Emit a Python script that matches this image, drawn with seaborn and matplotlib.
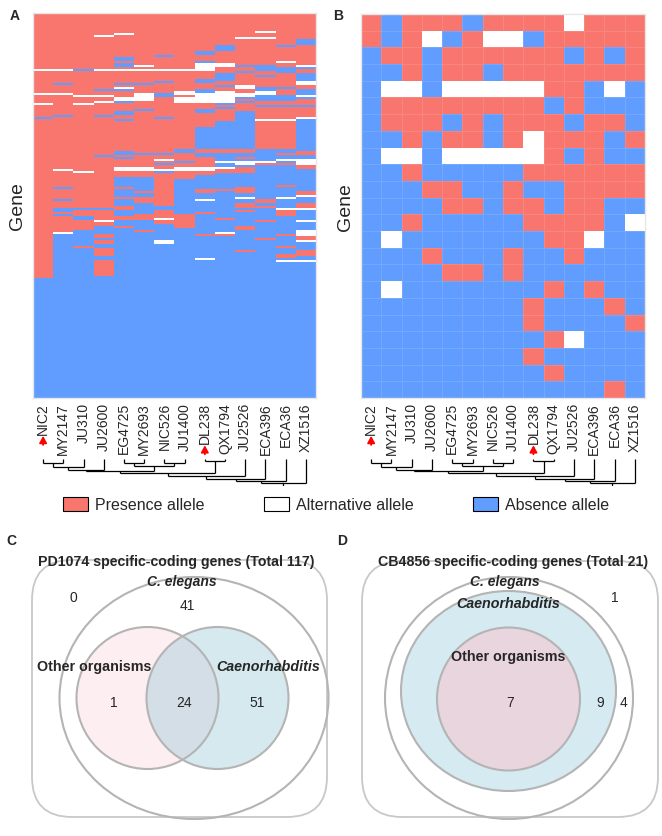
import numpy as np
import pandas as pd
import seaborn as sns
import matplotlib.pyplot as plt
from matplotlib.colors import ListedColormap
from matplotlib.patches import Patch, Ellipse, FancyBboxPatch

sns.set_style("white")
plt.rcParams["font.family"] = ["Liberation Sans", "DejaVu Sans"]

# ---------------- data ----------------
strains = ["NIC2", "MY2147", "JU310", "JU2600", "EG4725", "MY2693", "NIC526",
           "JU1400", "DL238", "QX1794", "JU2526", "ECA396", "ECA36", "XZ1516"]
marked_strains = ["NIC2", "DL238"]

# allele state per cell: A = absence, W = alternative, P = presence
allele_codes = {"A": 0, "W": 1, "P": 2}
allele_colors = ["#619CFF", "#FFFFFF", "#F8766D"]
legend_labels = ["Presence allele", "Alternative allele", "Absence allele"]
legend_codes = ["P", "W", "A"]

# panel A: run lengths down each strain column (rows)
panel_a_runs = [
    "P28 W1 P11 W1 P4 W1 P6 A1 P79 A60",
    "P28 W1 P6 A1 P4 W1 P10 A1 P26 W1 P8 A1 P5 A1 P3 A2 P1 A1 P8 W1 A82",
    "P28 A1 P12 W1 P3 W1 P33 W1 P17 A1 P3 A2 P5 A8 P1 A75",
    "P11 W1 P16 W1 P9 A1 P2 W1 P2 W1 P6 A1 P19 A1 P25 A1 P5 W1 P2 A4 P2 A1 P2 A2 P4 A2 P8 A61",
    "P10 W1 P11 A2 P1 A2 P1 W1 P6 A1 P1 W1 A1 P3 W2 A1 P4 A2 P2 A1 P15 A2 P1 A1 P4 W2 P3 A5 P1 A4 P1 A3 P2 A3 P2 A3 P1 A85",
    "P26 W1 P1 W1 P6 A1 P4 W4 P4 A1 P21 A1 P6 W2 P3 A7 P1 A2 P3 A5 P3 A5 P1 A83",
    "P21 A1 P6 W1 P5 A1 P5 A2 P10 A1 P17 A1 P2 W1 P1 A1 P2 W1 A1 P16 A2 P4 W1 P2 A8 W2 A77",
    "P28 W1 P10 W2 P1 W3 P23 A2 P4 A1 P2 W2 P4 A17 P7 A85",
    "P19 A2 P3 A1 W4 P4 A2 P3 A2 W5 P3 A2 P7 A11 P2 A2 P5 W2 P2 A7 P2 A3 W1 A5 P1 A10 P1 A11 W1 A69",
    "P16 A3 P6 W2 P3 A4 P2 A1 P2 W6 A1 P1 A1 P6 A14 P2 A4 W1 A2 W1 P2 A8 P1 A13 P1 A6 W1 P1 A81",
    "P12 W1 P13 A1 P2 A1 P6 W2 P2 W2 A1 P1 A1 P4 A19 P2 A2 P1 A1 W2 A1 P3 A7 P3 A2 W1 A2 P2 A1 P1 A7 P2 A10 P1 A73",
    "P9 W1 P2 W1 P13 A3 P2 A1 P5 A2 W2 A3 P2 A1 P6 W1 P14 A6 W1 P1 A17 P2 A1 P1 A6 P1 A8 P1 A79",
    "P16 A1 P7 W1 P2 A3 P7 A1 P3 A3 P2 A1 P6 W1 P14 A2 P1 A2 W1 A1 P1 A10 P1 A5 W1 A4 W1 P3 A9 P1 A5 P1 A3 P2 A1 W1 A68",
    "P13 A3 P10 W1 A1 P2 A4 W2 P2 A3 W1 A1 P3 A1 P5 W1 A16 P2 A2 W3 P2 A11 P2 W1 A3 P2 W1 A5 W1 A4 W3 P2 W1 A4 P3 A2 W1 A68",
]

# panel B: one string per gene, one letter per strain
panel_b_rows = [
    "PAPPPAPPPPWPPP",
    "PAPWAPWWAPPPPP",
    "APPAPPPPPPAPAP",
    "AAPAPPAPPPPPPP",
    "AWWAWWWWWPPAWA",
    "APPPPPPPPAPAAA",
    "APPPAPAPPPAPPA",
    "AAPAPPAPWPPPAP",
    "AWWAWWWWWPAPAA",
    "AAPAAAAAPPPPPP",
    "AAAPPAAPAAPPPP",
    "AAAAPPAPPAPPAA",
    "AAPAAAAAPPPPAW",
    "AWAAAAAAAPPWAA",
    "AAAPAAAPAAPAAA",
    "AAAAPPAPAAAAAA",
    "AWAAAAAAAPAPAA",
    "AAAAAAAAPAAAPA",
    "AAAAAAAAPAAAAP",
    "AAAAAAAAAPWAAA",
    "AAAAAAAAPAAAAA",
    "AAAAAAAAAPAAAA",
    "AAAAAAAAAAAAPA",
]

# strain tree: (left, right, height); leaves 0..13, new nodes numbered from 14
tree_merges = [
    (0, 1, 4), (14, 2, 8), (15, 3, 11), (4, 5, 4), (6, 7, 4), (17, 18, 7),
    (16, 19, 12), (8, 9, 1.5), (20, 21, 14), (22, 10, 17), (23, 11, 19.5),
    (24, 12, 22), (25, 13, 23.5),
]
tree_root = 27

# Venn counts
venn_c_title = "PD1074 specific-coding genes (Total 117)"
venn_c_counts = [0, 41, 1, 24, 51]   # outside, C. elegans only, other only, both, Caenorhabditis only
venn_d_title = "CB4856 specific-coding genes (Total 21)"
venn_d_counts = [1, 4, 9, 7]         # outside, C. elegans only, Caenorhabditis only, other organisms


def expand(runs):
    out = []
    for tok in runs.split():
        out += [allele_codes[tok[0]]] * int(tok[1:])
    return out


mat_a = pd.DataFrame(np.array([expand(r) for r in panel_a_runs]).T, columns=strains)
mat_b = pd.DataFrame([[allele_codes[c] for c in row] for row in panel_b_rows], columns=strains)

# ---------------- figure ----------------
W, H = 662, 837
fig = plt.figure(figsize=(W / 100, H / 100), dpi=100)


def px_axes(x0, y0, x1, y1):
    return fig.add_axes([x0 / W, 1 - y1 / H, (x1 - x0) / W, (y1 - y0) / H])


cmap = ListedColormap(allele_colors)


def draw_heatmap(ax, mat, lw):
    sns.heatmap(mat, ax=ax, cmap=cmap, vmin=0, vmax=2, cbar=False,
                linewidths=lw, linecolor=(1, 1, 1, 0.12),
                xticklabels=True, yticklabels=False)
    ax.set_xticklabels(strains, rotation=90, fontsize=10)
    ax.tick_params(axis="x", length=0, pad=3)
    ax.set_xlabel("")
    ax.set_ylabel("Gene", fontsize=14, labelpad=5)
    for s in ax.spines.values():
        s.set_visible(True)
        s.set_color("#e6e6e6")
        s.set_linewidth(1)


def draw_tree(ax):
    n = len(strains)
    xs = {i: i + 0.5 for i in range(n)}
    hs = {i: 0 for i in range(n)}
    node = n
    for a, b, h in tree_merges:
        for c in (a, b):
            ax.plot([xs[c], xs[c]], [hs[c], h], color="black", lw=0.9,
                    solid_capstyle="butt")
        ax.plot([xs[a], xs[b]], [h, h], color="black", lw=0.9, solid_capstyle="butt")
        xs[node] = (xs[a] + xs[b]) / 2
        hs[node] = h
        node += 1
    root = node - 1
    ax.plot([xs[root], xs[root]], [hs[root], tree_root], color="black", lw=0.9)
    ax.set_xlim(0, n)
    ax.set_ylim(tree_root, 0)
    ax.axis("off")


ax_a = px_axes(33, 14, 316, 399)
ax_b = px_axes(361, 15, 645, 399)
draw_heatmap(ax_a, mat_a, 0)
draw_heatmap(ax_b, mat_b, 0.5)

draw_tree(px_axes(33, 460, 316, 487))
draw_tree(px_axes(361, 460, 645, 487))

handles = [Patch(facecolor=allele_colors[allele_codes[c]], edgecolor="black",
                 linewidth=0.8) for c in legend_codes]
fig.legend(handles, legend_labels, loc="center left", ncol=3, frameon=False,
           bbox_to_anchor=(63 / W, 1 - 505.5 / H), fontsize=11.5,
           handlelength=1.56, handleheight=0.94, handletextpad=0.45,
           columnspacing=3.7, borderpad=0, borderaxespad=0)


def fig_text(x, y, s, **kw):
    fig.text(x / W, 1 - y / H, s, ha="center", va="center", **kw)


for x, y, s in [(15, 16, "A"), (338, 16, "B"), (11, 541, "C"), (342, 541, "D")]:
    fig_text(x, y, s, fontsize=10, fontweight="bold")

# ---------------- Venn diagrams ----------------
ax_v = fig.add_axes([0, 0, 1, 1])
ax_v.set_xlim(0, W)
ax_v.set_ylim(H, 0)
ax_v.axis("off")

edge = "#b4b4b4"
box_edge = "#c8c8c8"


def rbox(x0, y0, x1, y1):
    ax_v.add_patch(FancyBboxPatch((x0, y0), x1 - x0, y1 - y0,
                                  boxstyle="round,pad=0,rounding_size=40",
                                  facecolor="white", edgecolor=box_edge, lw=1.3))


def ell(cx, cy, w, h, fc, alpha=1.0, z=2):
    ax_v.add_patch(Ellipse((cx, cy), w, h, facecolor=fc, alpha=alpha,
                           edgecolor="none", zorder=z))
    ax_v.add_patch(Ellipse((cx, cy), w, h, facecolor="none", edgecolor=edge,
                           lw=1.5, zorder=z + 2))


def vt(x, y, s, **kw):
    ax_v.text(x, y, s, ha="center", va="center", zorder=10, **kw)


# C
rbox(32, 561, 327, 818)
ell(194, 699, 269, 242, "none")
ell(147.5, 699, 142, 142, "#f080a0", alpha=0.13)
ell(217.5, 699, 142, 142, "#76b9cd", alpha=0.30)
vt(176, 562, venn_c_title, fontsize=10.2, fontweight="bold")
vt(182, 582, "C. elegans", fontsize=10, fontweight="bold", style="italic")
vt(94, 667, "Other organisms", fontsize=10.3, fontweight="bold")
vt(268, 667, "Caenorhabditis", fontsize=10.3, fontweight="bold", style="italic")
for (x, y), v in zip([(73, 598), (187, 606), (114, 703), (184, 703), (257, 703)],
                     venn_c_counts):
    vt(x, y, str(v), fontsize=10)

# D
rbox(362, 562, 658, 818)
ell(509, 699, 248, 242, "none")
ell(508.5, 692, 215, 200, "#d5eaf1")
ell(508.5, 700, 143, 143, "#e8d5de", z=5)
vt(513, 562, venn_d_title, fontsize=10.2, fontweight="bold")
vt(505, 582, "C. elegans", fontsize=10, fontweight="bold", style="italic")
vt(508, 604, "Caenorhabditis", fontsize=10.3, fontweight="bold", style="italic")
vt(508, 657, "Other organisms", fontsize=10.3, fontweight="bold")
for (x, y), v in zip([(615, 598), (623, 703), (600, 703), (510, 703)], venn_d_counts):
    vt(x, y, str(v), fontsize=10)

# red arrows under marked strain labels
fig.canvas.draw()
for ax in (ax_a, ax_b):
    for lab in ax.get_xticklabels():
        if lab.get_text() in marked_strains:
            bb = lab.get_window_extent()
            cx = (bb.x0 + bb.x1) / 2
            top = bb.y0 - 2
            ax.annotate("", xy=(cx, top), xytext=(cx, top - 9),
                        xycoords="figure pixels", textcoords="figure pixels",
                        arrowprops=dict(arrowstyle="-|>,head_length=0.4,head_width=0.22",
                                        color="red", lw=1.3, mutation_scale=10,
                                        shrinkA=0, shrinkB=0))

fig.savefig("out.png", dpi=100)
plt.close(fig)
